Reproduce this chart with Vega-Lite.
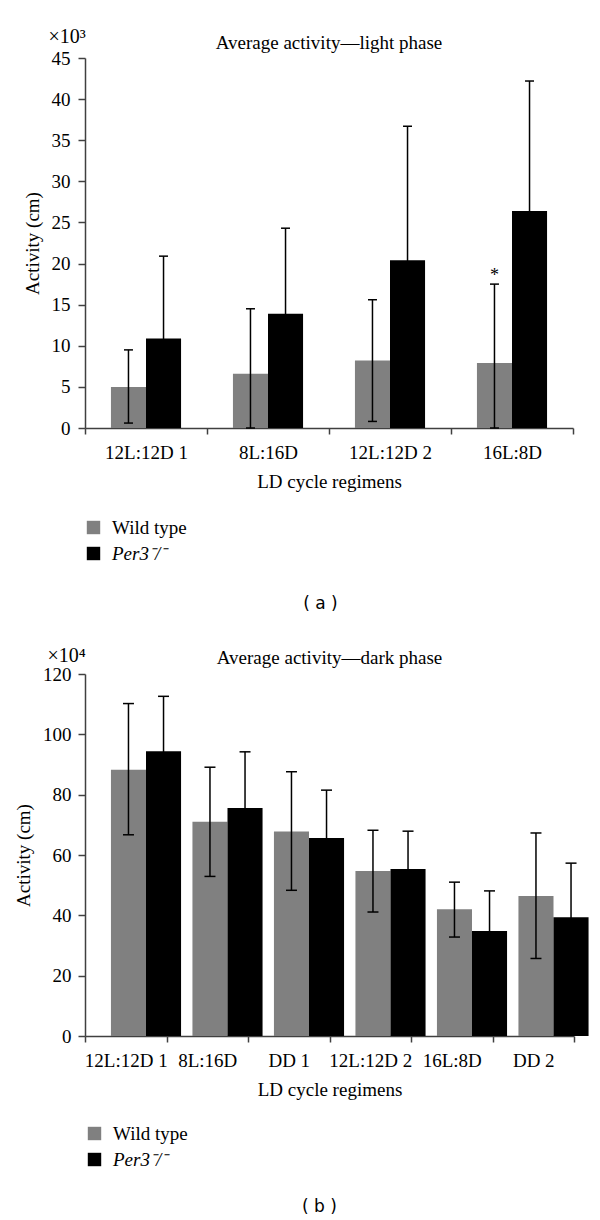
{
  "$schema": "https://vega.github.io/schema/vega-lite/v6.json",
  "padding": {"left": 14, "top": 26, "right": 5, "bottom": 0},
  "datasets": {
    "light": [
      {"regimen": "12L:12D 1", "genotype": "Wild type", "mean": 5.0, "lo": 0.6, "hi": 9.5},
      {"regimen": "12L:12D 1", "genotype": "Per3⁻/⁻", "mean": 10.9, "lo": 0.9, "hi": 20.9},
      {"regimen": "8L:16D", "genotype": "Wild type", "mean": 6.6, "lo": 0, "hi": 14.5},
      {"regimen": "8L:16D", "genotype": "Per3⁻/⁻", "mean": 13.9, "lo": 3.5, "hi": 24.3},
      {"regimen": "12L:12D 2", "genotype": "Wild type", "mean": 8.2, "lo": 0.8, "hi": 15.6},
      {"regimen": "12L:12D 2", "genotype": "Per3⁻/⁻", "mean": 20.4, "lo": 4.1, "hi": 36.7},
      {"regimen": "16L:8D", "genotype": "Wild type", "mean": 7.9, "lo": 0, "hi": 17.5},
      {"regimen": "16L:8D", "genotype": "Per3⁻/⁻", "mean": 26.4, "lo": 10.6, "hi": 42.2}
    ],
    "lightStar": [
      {"regimen": "16L:8D", "genotype": "Wild type", "sig": "*", "pos": 17.9}
    ],
    "dark": [
      {"regimen": "12L:12D 1", "genotype": "Wild type", "mean": 88.3, "lo": 66.7, "hi": 110.2},
      {"regimen": "12L:12D 1", "genotype": "Per3⁻/⁻", "mean": 94.4, "lo": 76.2, "hi": 112.6},
      {"regimen": "8L:16D", "genotype": "Wild type", "mean": 71.0, "lo": 52.9, "hi": 89.1},
      {"regimen": "8L:16D", "genotype": "Per3⁻/⁻", "mean": 75.6, "lo": 57.0, "hi": 94.2},
      {"regimen": "DD 1", "genotype": "Wild type", "mean": 67.8, "lo": 48.3, "hi": 87.6},
      {"regimen": "DD 1", "genotype": "Per3⁻/⁻", "mean": 65.6, "lo": 49.7, "hi": 81.5},
      {"regimen": "12L:12D 2", "genotype": "Wild type", "mean": 54.7, "lo": 41.1, "hi": 68.2},
      {"regimen": "12L:12D 2", "genotype": "Per3⁻/⁻", "mean": 55.4, "lo": 42.9, "hi": 67.9},
      {"regimen": "16L:8D", "genotype": "Wild type", "mean": 42.0, "lo": 32.8, "hi": 51.0},
      {"regimen": "16L:8D", "genotype": "Per3⁻/⁻", "mean": 34.8, "lo": 21.5, "hi": 48.1},
      {"regimen": "DD 2", "genotype": "Wild type", "mean": 46.4, "lo": 25.7, "hi": 67.3},
      {"regimen": "DD 2", "genotype": "Per3⁻/⁻", "mean": 39.4, "lo": 21.5, "hi": 57.3}
    ]
  },
  "config": {
    "view": {"stroke": null},
    "font": "Liberation Serif",
    "axis": {
      "labelFont": "Liberation Serif", "labelFontSize": 19, "labelColor": "#000",
      "titleFont": "Liberation Serif", "titleFontSize": 19, "titleFontWeight": "normal", "titleColor": "#000",
      "domainColor": "#404040", "domainWidth": 1.5, "tickColor": "#404040", "tickWidth": 1.5, "grid": false
    },
    "title": {"font": "Liberation Serif", "fontSize": 19, "fontWeight": "normal", "color": "#000"},
    "legend": {
      "padding": 0, "symbolType": "square", "symbolSize": 180, "symbolStrokeWidth": 0, "symbolOpacity": 1,
      "labelFont": "Liberation Serif", "labelFontSize": 19, "labelColor": "#000", "labelOffset": 9, "rowPadding": 6
    }
  },
  "spacing": 34,
  "resolve": {"scale": {"color": "independent"}},
  "vconcat": [
    {
      "width": 488,
      "height": 370,
      "title": {"text": "Average activity—light phase", "frame": "group", "anchor": "middle", "baseline": "alphabetic", "offset": -42},
      "data": {"name": "light"},
      "resolve": {"axis": {"x": "independent", "y": "independent"}},
      "layer": [
        {
          "mark": {"type": "bar"},
          "encoding": {
            "x": {"field": "regimen", "type": "nominal", "sort": ["12L:12D 1", "8L:16D", "12L:12D 2", "16L:8D"],
              "scale": {"paddingInner": 0, "paddingOuter": 0},
              "axis": {"title": "LD cycle regimens", "labelAngle": 0, "tickBand": "extent", "tickSize": 6, "labelPadding": 9, "titlePadding": 10, "labelOverlap": false}},
            "xOffset": {"field": "genotype", "type": "nominal", "sort": ["Wild type", "Per3⁻/⁻"], "scale": {"paddingInner": 0, "paddingOuter": 0.74}},
            "y": {"field": "mean", "type": "quantitative", "scale": {"domain": [0, 45], "nice": false},
              "axis": {"title": "Activity (cm)", "values": [0, 5, 10, 15, 20, 25, 30, 35, 40, 45], "tickSize": 7, "labelPadding": 8, "titlePadding": 9}},
            "color": {"field": "genotype", "type": "nominal", "sort": ["Wild type", "Per3⁻/⁻"],
              "scale": {"domain": ["Wild type", "Per3⁻/⁻"], "range": ["#808080", "#000000"]},
              "legend": {"title": null, "orient": "none", "legendX": -1, "legendY": 460, "direction": "vertical",
                "encode": {"labels": {"update": {"fontStyle": {"signal": "datum.label === 'Wild type' ? 'normal' : 'italic'"}}}}}}
          }
        },
        {
          "mark": {"type": "rule", "color": "#000", "strokeWidth": 1.5},
          "encoding": {
            "x": {"field": "regimen", "type": "nominal", "sort": ["12L:12D 1", "8L:16D", "12L:12D 2", "16L:8D"],
              "axis": {"title": "( a )", "orient": "bottom", "labels": false, "ticks": false, "domain": false,
                "titleFont": "DejaVu Sans", "titleFontSize": 17, "titleX": 235, "titleY": 175, "titleBaseline": "middle", "titleAlign": "center"}},
            "xOffset": {"field": "genotype", "type": "nominal", "sort": ["Wild type", "Per3⁻/⁻"]},
            "y": {"field": "lo", "type": "quantitative",
              "axis": {"title": "×10³", "orient": "left", "labels": false, "ticks": false, "domain": false,
                "titleAngle": 0, "titleX": -37, "titleY": -16, "titleAlign": "left", "titleBaseline": "alphabetic", "titleFontSize": 20}},
            "y2": {"field": "hi"}
          }
        },
        {
          "mark": {"type": "tick", "color": "#000", "thickness": 1.5, "size": 9, "opacity": 1},
          "encoding": {
            "x": {"field": "regimen", "type": "nominal", "sort": ["12L:12D 1", "8L:16D", "12L:12D 2", "16L:8D"], "axis": null},
            "xOffset": {"field": "genotype", "type": "nominal", "sort": ["Wild type", "Per3⁻/⁻"]},
            "y": {"field": "hi", "type": "quantitative", "axis": null}
          }
        },
        {
          "mark": {"type": "tick", "color": "#000", "thickness": 1.5, "size": 9, "opacity": 1},
          "encoding": {
            "x": {"field": "regimen", "type": "nominal", "sort": ["12L:12D 1", "8L:16D", "12L:12D 2", "16L:8D"], "axis": null},
            "xOffset": {"field": "genotype", "type": "nominal", "sort": ["Wild type", "Per3⁻/⁻"]},
            "y": {"field": "lo", "type": "quantitative", "axis": null}
          }
        },
        {
          "data": {"name": "lightStar"},
          "mark": {"type": "text", "font": "Liberation Serif", "fontSize": 18, "baseline": "alphabetic", "color": "#000"},
          "encoding": {
            "x": {"field": "regimen", "type": "nominal", "sort": ["12L:12D 1", "8L:16D", "12L:12D 2", "16L:8D"], "axis": null},
            "xOffset": {"field": "genotype", "type": "nominal", "sort": ["Wild type", "Per3⁻/⁻"]},
            "y": {"field": "pos", "type": "quantitative", "axis": null},
            "text": {"field": "sig"}
          }
        }
      ]
    },
    {
      "width": 489,
      "height": 362,
      "title": {"text": "Average activity—dark phase", "frame": "group", "anchor": "middle", "baseline": "alphabetic", "offset": -38},
      "data": {"name": "dark"},
      "resolve": {"axis": {"x": "independent", "y": "independent"}},
      "layer": [
        {
          "mark": {"type": "bar"},
          "encoding": {
            "x": {"field": "regimen", "type": "nominal", "sort": ["12L:12D 1", "8L:16D", "DD 1", "12L:12D 2", "16L:8D", "DD 2"],
              "scale": {"paddingInner": 0, "paddingOuter": 0},
              "axis": {"title": "LD cycle regimens", "labelAngle": 0, "tickBand": "extent", "tickSize": 6, "labelPadding": 9, "titlePadding": 10, "labelOverlap": false}},
            "xOffset": {"field": "genotype", "type": "nominal", "sort": ["Wild type", "Per3⁻/⁻"], "scale": {"paddingInner": 0, "paddingOuter": 0.74}},
            "y": {"field": "mean", "type": "quantitative", "scale": {"domain": [0, 120], "nice": false},
              "axis": {"title": "Activity (cm)", "values": [0, 20, 40, 60, 80, 100, 120], "tickSize": 7, "labelPadding": 7, "titlePadding": 9}},
            "color": {"field": "genotype", "type": "nominal", "sort": ["Wild type", "Per3⁻/⁻"],
              "scale": {"domain": ["Wild type", "Per3⁻/⁻"], "range": ["#808080", "#000000"]},
              "legend": {"title": null, "orient": "none", "legendX": 0, "legendY": 450, "direction": "vertical",
                "encode": {"labels": {"update": {"fontStyle": {"signal": "datum.label === 'Wild type' ? 'normal' : 'italic'"}}}}}}
          }
        },
        {
          "mark": {"type": "rule", "color": "#000", "strokeWidth": 1.5},
          "encoding": {
            "x": {"field": "regimen", "type": "nominal", "sort": ["12L:12D 1", "8L:16D", "DD 1", "12L:12D 2", "16L:8D", "DD 2"],
              "axis": {"title": "( b )", "orient": "bottom", "labels": false, "ticks": false, "domain": false,
                "titleFont": "DejaVu Sans", "titleFontSize": 17, "titleX": 234, "titleY": 170, "titleBaseline": "middle", "titleAlign": "center"}},
            "xOffset": {"field": "genotype", "type": "nominal", "sort": ["Wild type", "Per3⁻/⁻"]},
            "y": {"field": "lo", "type": "quantitative",
              "axis": {"title": "×10⁴", "orient": "left", "labels": false, "ticks": false, "domain": false,
                "titleAngle": 0, "titleX": -38, "titleY": -13, "titleAlign": "left", "titleBaseline": "alphabetic", "titleFontSize": 20}},
            "y2": {"field": "hi"}
          }
        },
        {
          "mark": {"type": "tick", "color": "#000", "thickness": 1.5, "size": 11, "opacity": 1},
          "encoding": {
            "x": {"field": "regimen", "type": "nominal", "sort": ["12L:12D 1", "8L:16D", "DD 1", "12L:12D 2", "16L:8D", "DD 2"], "axis": null},
            "xOffset": {"field": "genotype", "type": "nominal", "sort": ["Wild type", "Per3⁻/⁻"]},
            "y": {"field": "hi", "type": "quantitative", "axis": null}
          }
        },
        {
          "mark": {"type": "tick", "color": "#000", "thickness": 1.5, "size": 11, "opacity": 1},
          "encoding": {
            "x": {"field": "regimen", "type": "nominal", "sort": ["12L:12D 1", "8L:16D", "DD 1", "12L:12D 2", "16L:8D", "DD 2"], "axis": null},
            "xOffset": {"field": "genotype", "type": "nominal", "sort": ["Wild type", "Per3⁻/⁻"]},
            "y": {"field": "lo", "type": "quantitative", "axis": null}
          }
        }
      ]
    }
  ]
}
